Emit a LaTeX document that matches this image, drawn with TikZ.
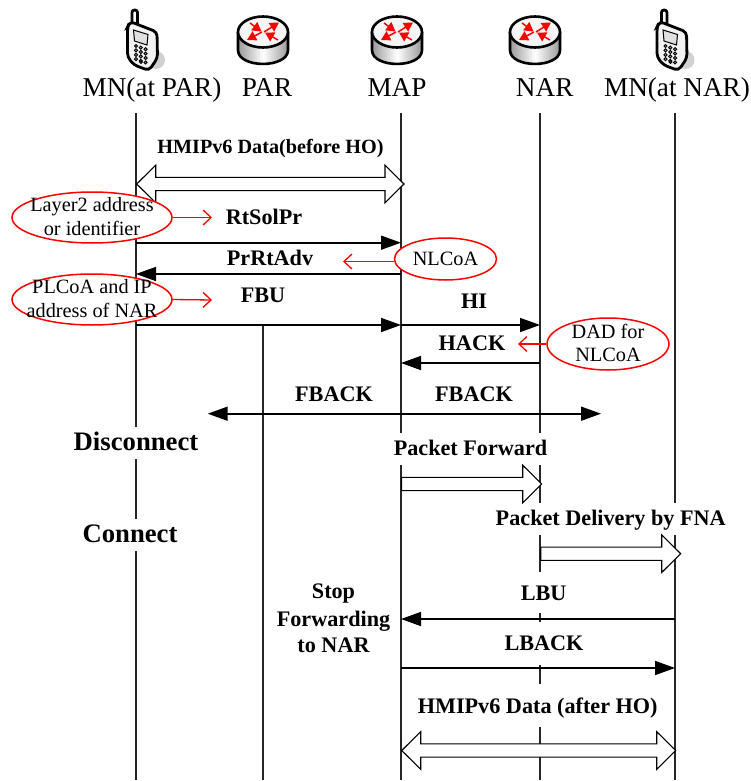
\documentclass[tikz,border=0pt]{standalone}
\usepackage{fontspec}
\setmainfont{Liberation Serif}
\usetikzlibrary{arrows.meta,calc,shapes.geometric}
\newcommand{\fsz}[1]{\fontsize{#1}{#1}\selectfont}
\newcommand{\hollowright}[2]{%
  \draw[hollowarrow] ($(#1)+(0,-6.6)$) -- ($(#2)+(-19,-6.6)$) -- ($(#2)+(-19,-18.8)$) -- (#2) -- ($(#2)+(-19,18.8)$) -- ($(#2)+(-19,6.6)$) -- ($(#1)+(0,6.6)$) -- cycle;}
\newcommand{\hollowboth}[2]{%
  \draw[hollowarrow] (#1) -- ($(#1)+(19,-18.8)$) -- ($(#1)+(19,-6.6)$) -- ($(#2)+(-19,-6.6)$) -- ($(#2)+(-19,-18.8)$) -- (#2) -- ($(#2)+(-19,18.8)$) -- ($(#2)+(-19,6.6)$) -- ($(#1)+(19,6.6)$) -- ($(#1)+(19,18.8)$) -- cycle;}
\tikzset{
  x=1pt,y=-1pt,
  lifeline/.style={line width=1.4pt,black!85},
  msg/.style={line width=1.6pt,black,-{Triangle[length=20pt,width=14pt]}},
  msgboth/.style={line width=1.6pt,black,{Triangle[length=20pt,width=14pt]}-{Triangle[length=20pt,width=14pt]}},
  redarrow/.style={line width=1.3pt,red,-{Straight Barb[length=8pt,width=15pt]}},
  hollowarrow/.style={line width=1.1pt,black,fill=white,line join=miter},
  redell/.style={ellipse,draw=red,line width=1.5pt,fill=white,inner sep=0pt,minimum width=#1},
  head/.style={anchor=base,inner sep=0pt,font=\fsz{27.2}},
  boldlab/.style={anchor=base,inner sep=0pt,font=\fsz{22.2}\bfseries},
  biglab/.style={anchor=base,inner sep=0pt,font=\fsz{26.7}\bfseries},
  elltext/.style={anchor=base,inner sep=0pt,font=\fsz{20.3}},
  mask/.style={fill=white,draw=none},
  pics/routericon/.style={code={
    \shade[left color=black!40,right color=black!40,middle color=white]
      (-25,0) -- (-25,18) .. controls (-25,36.6) and (25,36.6) .. (25,18) -- (25,0) -- cycle;
    \draw[line width=2.6pt,line join=round] (-25,0) -- (-25,18) .. controls (-25,36.6) and (25,36.6) .. (25,18) -- (25,0);
    \draw[line width=2.6pt,fill=black!4] (0,0) ellipse [x radius=25,y radius=15.5];
    \begin{scope}[line width=1.5pt,red,-{Triangle[length=9pt,width=10pt]}]
      \draw (-13,-9) -- (-1.5,-0.5);
      \draw (1,0) -- (16,-9.5);
      \draw (-1,0) -- (-16,8);
      \draw (15,8) -- (2,0.5);
    \end{scope}
  }},
  pics/phoneicon/.style={code={
    \fill[black!18] (156,60) circle [radius=9];
    \draw[line width=2.8pt,fill=white,rounded corners=2.5pt] (132,24) -- (132,10) -- (137.5,10) -- (137.5,26);
    \draw[line width=2.8pt,fill=black!5,rounded corners=4pt]
      (130,21.5) -- (157,32) -- (157.5,58) -- (149,70.5) -- (134,65) -- (127.5,57) -- (127.5,27) -- cycle;
    \draw[line width=1pt,fill=black!12] (133.5,30) -- (148,34.5) -- (147,45) -- (134.5,41) -- cycle;
    \foreach \i in {0,1,2}{\foreach \j in {0,1,2,3}{
      \draw[line width=0.9pt,fill=black!35] ({136+4.8*\i},{46+1.6*\i+4.4*\j}) circle [radius=1.6];
    }}
    \draw[line width=0.9pt] (141,62) circle [radius=1.4];
  }}
}
\begin{document}
\begin{tikzpicture}
\useasboundingbox (0,0) rectangle (751,781);
% lifeline x positions
\coordinate (lMN) at (136,113);
\coordinate (lPAR) at (263,325);
\coordinate (lMAP) at (401,113);
\coordinate (lNAR) at (540,113);
\coordinate (lMNN) at (675,113);
\coordinate (yEnd) at (0,780);
\draw[lifeline] (lMN) -- (lMN |- yEnd);
\draw[lifeline] (lPAR) -- (lPAR |- yEnd);
\draw[lifeline] (lMAP) -- (lMAP |- yEnd);
\draw[lifeline] (lNAR) -- (lNAR |- yEnd);
\draw[lifeline] (lMNN) -- (lMNN |- yEnd);
% gaps in lifelines behind labels
\fill[mask] (73,427) rectangle (200,459);
\fill[mask] (82,519) rectangle (178,551);
\fill[mask] (393,433) rectangle (549,465);
\fill[mask] (495,503) rectangle (727,535);
\fill[mask] (522,572) rectangle (567,613);
\fill[mask] (504,622) rectangle (584,665);
\fill[mask] (416,684) rectangle (660,727);
% icons
\pic at (0,0) {phoneicon};
\pic at (529.5,0) {phoneicon};
\pic at (263,32) {routericon};
\pic at (397,32) {routericon};
\pic at (535,32) {routericon};
% heads
\node[head] (hMN) at (152,96.7) {MN(at PAR)};
\node[head] (hPAR) at (267,96.7) {PAR};
\node[head] (hMAP) at (397,96.7) {MAP};
\node[head] (hNAR) at (544.7,96.7) {NAR};
\node[head] (hMNN) at (677,96.7) {MN(at NAR)};
% hollow arrows
\coordinate (hbA) at (136.7,184);
\coordinate (hbB) at (404,184);
\hollowboth{hbA}{hbB}
\coordinate (pfA) at (401.5,484);
\coordinate (pfB) at (541.7,484);
\hollowright{pfA}{pfB}
\coordinate (pdA) at (540.7,553.7);
\coordinate (pdB) at (680.7,553.7);
\hollowright{pdA}{pdB}
\coordinate (haA) at (401.7,750.5);
\coordinate (haB) at (675.7,750.5);
\hollowboth{haA}{haB}
% messages
\coordinate (yRt) at (0,242.7);
\coordinate (yPr) at (0,274);
\coordinate (yFbu) at (0,325);
\coordinate (yHack) at (0,363);
\coordinate (yLbu) at (0,619);
\coordinate (yLback) at (0,668);
\coordinate (fbL) at (207.7,413.7);
\coordinate (fbR) at (601,413.7);
\draw[msg] (lMN |- yRt) -- (lMAP |- yRt);
\draw[msg] (lMAP |- yPr) -- (lMN |- yPr);
\draw[msg] (lMN |- yFbu) -- (lMAP |- yFbu);
\draw[msg] (lMAP |- yFbu) -- (lNAR |- yFbu);
\draw[msg] (lNAR |- yHack) -- (lMAP |- yHack);
\draw[msgboth] (fbL) -- (fbR);
\draw[msg] (lMNN |- yLbu) -- (lMAP |- yLbu);
\draw[msg] (lMAP |- yLback) -- (lMNN |- yLback);
% red ellipses
\node[redell=160pt,minimum height=51pt] (eL2) at (92,217.5) {};
\node[redell=160pt,minimum height=51pt] (ePL) at (92,299.5) {};
\node[redell=102pt,minimum height=42pt] (eNL) at (445.5,259) {};
\node[redell=122pt,minimum height=52pt] (eDAD) at (608,344) {};
\coordinate (raA) at (212,217.5);
\coordinate (raB) at (212,300);
\coordinate (raC) at (343,261.5);
\coordinate (raD) at (518,344);
\draw[redarrow] (eL2.east) -- (raA);
\draw[redarrow] (ePL.east) -- (raB);
\draw[redarrow] (eNL.west |- raC) -- (raC);
\draw[redarrow] (eDAD.west) -- (raD);
\node[elltext] (tL2a) at (92,211.7) {Layer2 address};
\node[elltext] (tL2b) at (92,235) {or identifier};
\node[elltext] (tPLa) at (92,293) {PLCoA and IP};
\node[elltext] (tPLb) at (92,317) {address of NAR};
\node[elltext] (tNL) at (445.5,265) {NLCoA};
\node[elltext] (tDa) at (608,338) {DAD for};
\node[elltext] (tDb) at (608,361.7) {NLCoA};
% labels
\node[boldlab,font=\fsz{20.2}\bfseries] (t1) at (270.5,153) {HMIPv6 Data(before HO)};
\node[boldlab] (t2) at (264,224) {RtSolPr};
\node[boldlab] (t3) at (270,265) {PrRtAdv};
\node[boldlab] (t4) at (263,302.7) {FBU};
\node[boldlab] (t5) at (474,308.3) {HI};
\node[boldlab] (t6) at (472,350) {HACK};
\node[boldlab] (t7) at (334,401.5) {FBACK};
\node[boldlab] (t8) at (474,401.5) {FBACK};
\node[boldlab] (t9) at (470.5,455) {Packet Forward};
\node[boldlab] (t10) at (610.7,525.7) {Packet Delivery by FNA};
\node[biglab] (t11) at (136,450) {Disconnect};
\node[biglab] (t12) at (130,542) {Connect};
\node[boldlab] (t13) at (333.5,598) {Stop};
\node[boldlab] (t14) at (333.5,626) {Forwarding};
\node[boldlab] (t15) at (333.5,652.7) {to NAR};
\node[boldlab] (t16) at (543.7,600.7) {LBU};
\node[boldlab] (t17) at (544,650.7) {LBACK};
\node[boldlab] (t18) at (537.7,713) {HMIPv6 Data (after HO)};
\end{tikzpicture}
\end{document}
